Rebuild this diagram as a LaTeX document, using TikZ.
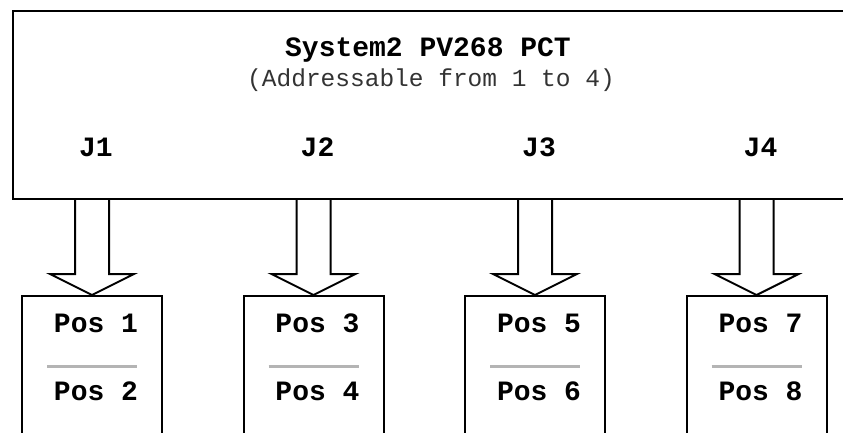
\documentclass[tikz,border=0pt]{standalone}
\usepackage{fontspec}
\setmonofont{Liberation Mono}
\usetikzlibrary{calc}
\definecolor{subgray}{HTML}{333333}
\definecolor{sepgray}{HTML}{B4B4B4}
\begin{document}
\begin{tikzpicture}[x=1pt,y=-1pt,
  boxline/.style={draw=black,line width=2pt,fill=white,inner sep=0pt},
  bigtxt/.style={font=\ttfamily\bfseries\fontsize{28}{30}\selectfont,inner sep=0pt,anchor=base},
  subtxt/.style={font=\ttfamily\fontsize{24.5}{27}\selectfont,text=subgray,inner sep=0pt,anchor=base},
  posbox/.style={boxline,minimum width=140pt,minimum height=200pt,anchor=north},
  fatarrow/.style={draw=black,line width=2pt,fill=white,line join=miter},
  sepline/.style={draw=sepgray,line width=3pt}]
\useasboundingbox (0,0) rectangle (843,433);
\clip (0,0) rectangle (843,433);
\fill[white] (0,0) rectangle (843,433);
\node[boxline,minimum width=840pt,minimum height=188pt,anchor=north west] (pct) at (12,10) {};
\node[bigtxt] (title) at (428,57) {System2 PV268 PCT};
\node[subtxt] (sub) at (431,87) {(Addressable from 1 to 4)};
\foreach \i/\cx/\a/\b in {1/92/1/2,2/313.5/3/4,3/535/5/6,4/756.5/7/8}{
  \node[posbox] (b\i) at (\cx,295) {};
  \node[bigtxt] (j\i) at (\cx+4,157) {J\i};
  \node[bigtxt] (p\a) at (\cx+4,332) {Pos \a};
  \node[bigtxt] (p\b) at (\cx+4,400) {Pos \b};
  \draw[sepline] ($(b\i.north)+(-45,71)$) -- ($(b\i.north)+(45,71)$);
  \draw[fatarrow] ($(b\i.north |- pct.south)+(-17,0)$) -- ($(b\i.north)+(-17,-21)$)
     -- ($(b\i.north)+(-42,-21)$) -- (b\i.north) -- ($(b\i.north)+(42,-21)$)
     -- ($(b\i.north)+(17,-21)$) -- ($(b\i.north |- pct.south)+(17,0)$);
}
\end{tikzpicture}
\end{document}
